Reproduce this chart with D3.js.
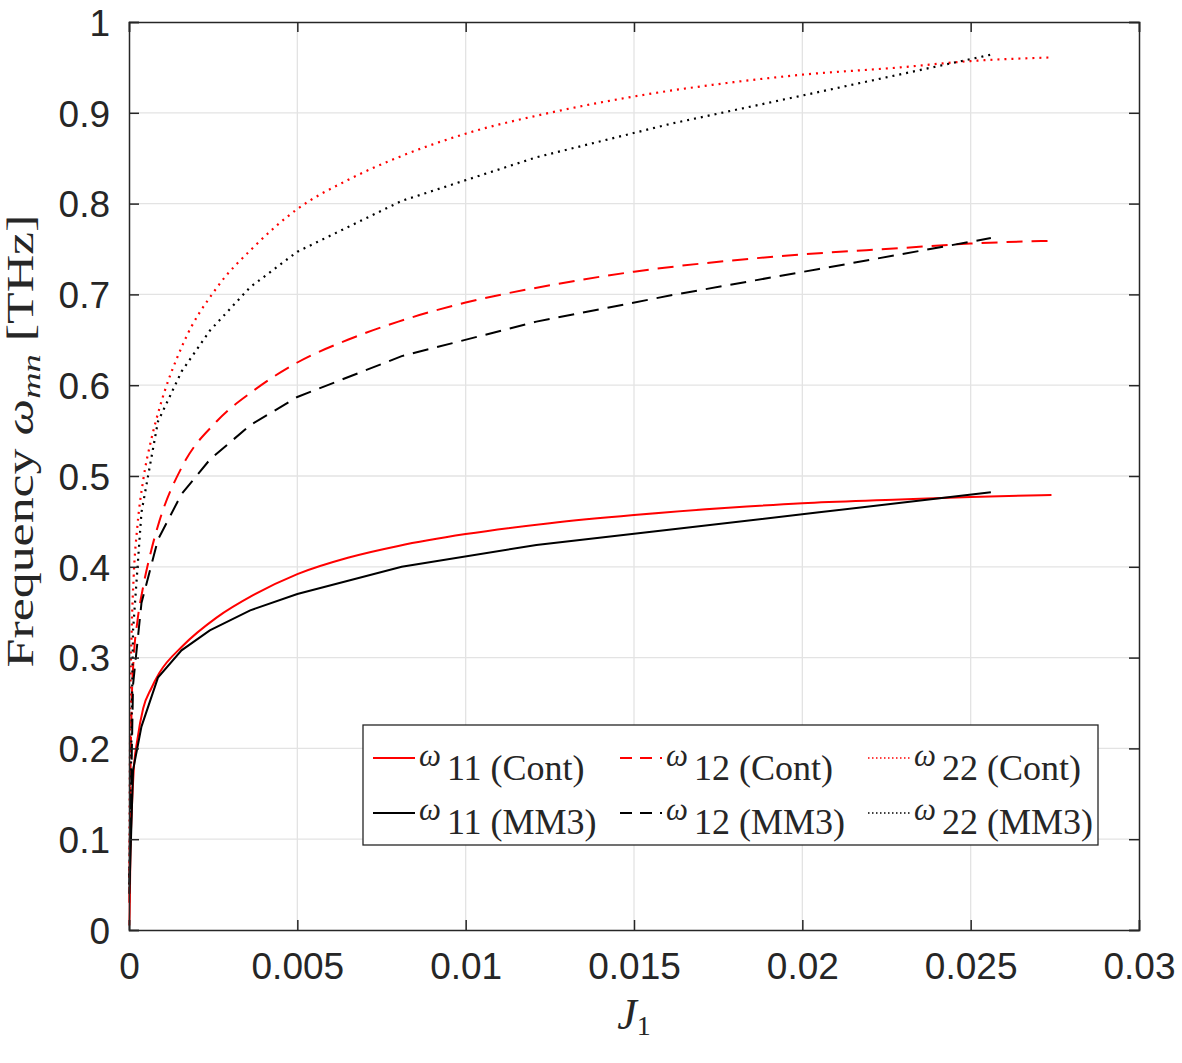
<!DOCTYPE html>
<html>
<head>
<meta charset="utf-8">
<script src="https://cdn.jsdelivr.net/npm/d3@7"></script>
<style>
body { margin:0; background:#fff; }
svg text { fill:#262626; }
</style>
</head>
<body>
<div id="svg"></div>
<script>

// data

var jCont = [0.00001, 0.00002, 0.00004, 0.00008, 0.00014, 0.00025, 0.00042, 0.00066, 0.0009,
             0.0016, 0.0026, 0.0037, 0.005, 0.0065, 0.008, 0.01, 0.0125, 0.015, 0.0178,
             0.02, 0.0229, 0.025, 0.0274];
var w11Cont = [0.005, 0.02, 0.08, 0.13, 0.176, 0.21, 0.244, 0.266, 0.283,
               0.313, 0.344, 0.369, 0.392, 0.410, 0.423, 0.436, 0.448, 0.457, 0.465,
               0.470, 0.474, 0.477, 0.479];
var w12Cont = [0.03, 0.08, 0.16, 0.25, 0.30, 0.34, 0.378, 0.418, 0.450,
               0.512, 0.560, 0.594, 0.625, 0.650, 0.670, 0.691, 0.710, 0.725, 0.737,
               0.744, 0.751, 0.756, 0.759];
var w22Cont = [0.05, 0.14, 0.25, 0.33, 0.39, 0.445, 0.495, 0.54, 0.574,
               0.645, 0.707, 0.752, 0.794, 0.826, 0.851, 0.877, 0.900, 0.918, 0.933,
               0.942, 0.950, 0.957, 0.961];

var jMM3 = [0.00001, 0.00012, 0.00037, 0.00086, 0.00156, 0.0024, 0.0036, 0.005,
            0.0081, 0.0121, 0.0161, 0.0205, 0.0256];
var w11MM3 = [0.04, 0.176, 0.224, 0.278, 0.308, 0.330, 0.352, 0.370,
              0.400, 0.424, 0.441, 0.460, 0.482];
var w12MM3 = [0.05, 0.27, 0.36, 0.43, 0.48, 0.518, 0.556, 0.587,
              0.632, 0.670, 0.699, 0.728, 0.762];
var w22MM3 = [0.06, 0.33, 0.46, 0.56, 0.615, 0.66, 0.708, 0.747,
              0.803, 0.851, 0.888, 0.923, 0.964];

var xTicks = [0, 0.005, 0.01, 0.015, 0.02, 0.025, 0.03];
var yTicks = [0, 0.1, 0.2, 0.3, 0.4, 0.5, 0.6, 0.7, 0.8, 0.9, 1];

var seriesNames = ["11 (Cont)", "12 (Cont)", "22 (Cont)", "11 (MM3)", "12 (MM3)", "22 (MM3)"];


var margin = {top: 22, left: 129, right: 43, bot: 133};
var svg = {width: 1182, height: 1063};
var W = svg.width - margin.left - margin.right;
var H = svg.height - margin.top - margin.bot;

var axcol = "#262626";
var dash = {solid: null, dashed: "16,9", dotted: "2,5"};

var x = d3.scaleLinear().domain([0, 0.03]).range([0, W]);
var y = d3.scaleLinear().domain([0, 1]).range([H, 0]);

var series = [
    {js: jCont, ws: w11Cont, col: "#ff0000", st: "solid", smooth: true},
    {js: jCont, ws: w12Cont, col: "#ff0000", st: "dashed", smooth: true},
    {js: jCont, ws: w22Cont, col: "#ff0000", st: "dotted", smooth: true},
    {js: jMM3, ws: w11MM3, col: "#000000", st: "solid", smooth: false},
    {js: jMM3, ws: w12MM3, col: "#000000", st: "dashed", smooth: false},
    {js: jMM3, ws: w22MM3, col: "#000000", st: "dotted", smooth: false}
];


var root = d3.select("#svg").append("svg")
    .attr("width", svg.width)
    .attr("height", svg.height);

root.append("rect")
    .attr("width", svg.width)
    .attr("height", svg.height)
    .attr("fill", "#fff");

var g = root.append("g")
    .attr("transform", "translate(" + margin.left + "," + margin.top + ")");

// grid
var grid = g.append("g").attr("id", "grid");
grid.selectAll("line.gx")
    .data(xTicks.slice(1, -1))
    .enter().append("line")
    .attr("x1", d => x(d)).attr("x2", d => x(d))
    .attr("y1", 0).attr("y2", H)
    .attr("stroke", "#e3e3e3")
    .attr("stroke-width", 1.3);
grid.selectAll("line.gy")
    .data(yTicks.slice(1, -1))
    .enter().append("line")
    .attr("y1", d => y(d)).attr("y2", d => y(d))
    .attr("x1", 0).attr("x2", W)
    .attr("stroke", "#e3e3e3")
    .attr("stroke-width", 1.3);

// curves
var line_of = function(s) {
    var l = d3.line()
        .x(function(d, i) { return x(s.js[i]); })
        .y(function(d) { return y(d); });
    if (s.smooth) l.curve(d3.curveMonotoneX);
    return l(s.ws);
};

g.append("g").attr("id", "curves")
    .selectAll("path")
    .data(series)
    .enter().append("path")
    .attr("d", line_of)
    .attr("fill", "none")
    .attr("stroke", d => d.col)
    .attr("stroke-width", d => d.st == "dotted" ? 2.2 : 2)
    .attr("stroke-dasharray", d => dash[d.st]);

// axes, box on, ticks inside on all four sides
var axL = g.append("g").call(d3.axisLeft(y).tickValues(yTicks).tickSize(-10).tickPadding(19).tickFormat(d3.format("~g")));
var axR = g.append("g").attr("transform", "translate(" + W + ",0)")
    .call(d3.axisRight(y).tickValues(yTicks).tickSize(-10).tickFormat(""));
var axB = g.append("g").attr("transform", "translate(0," + H + ")")
    .call(d3.axisBottom(x).tickValues(xTicks).tickSize(-10).tickPadding(22).tickFormat(d3.format("~g")));
var axT = g.append("g")
    .call(d3.axisTop(x).tickValues(xTicks).tickSize(-10).tickFormat(""));

[axL, axR, axB, axT].forEach(function(a) {
    a.selectAll(".domain").attr("stroke", axcol).attr("stroke-width", 1.5);
    a.selectAll(".tick line").attr("stroke", axcol).attr("stroke-width", 1.5);
    a.selectAll("text")
        .attr("font-family", "Liberation Sans, Arial, sans-serif")
        .attr("font-size", 37)
        .attr("fill", axcol);
});
axL.selectAll("text").attr("dy", "0.36em");
axB.selectAll("text").attr("dy", "0.72em");

// axis labels
var serif = "Liberation Serif, Times New Roman, serif";

var yl = root.append("text")
    .attr("text-anchor", "middle")
    .attr("font-family", serif)
    .attr("font-size", 37);
yl.append("tspan").text("Frequency ");
yl.append("tspan").attr("font-style", "italic").text("\u03c9");
yl.append("tspan").attr("font-style", "italic").attr("font-size", 26).attr("dy", 7).text("mn");
yl.append("tspan").attr("dy", -7).text(" [THz]");
// latex font is wider than times: stretch along the text
var ylen = yl.node().getComputedTextLength();
yl.attr("transform", "translate(33,441) rotate(-90) scale(" + (453 / ylen) + ",1)");

var xl = root.append("text")
    .attr("x", margin.left + W / 2)
    .attr("y", 1029)
    .attr("text-anchor", "middle")
    .attr("font-family", serif)
    .attr("font-size", 44);
xl.append("tspan").attr("font-style", "italic").text("J");
xl.append("tspan").attr("font-size", 28).attr("dy", 6).text("1");

// legend
var leg = {x: 363, y: 725, w: 735, h: 120};
var legCols = [373, 620, 868];
var legRows = [{line: 758, base: 780}, {line: 813, base: 834}];

var lg = root.append("g").attr("id", "legend");
lg.append("rect")
    .attr("x", leg.x).attr("y", leg.y)
    .attr("width", leg.w).attr("height", leg.h)
    .attr("fill", "#fff")
    .attr("stroke", axcol)
    .attr("stroke-width", 1.3);

var items = lg.selectAll("g.item")
    .data(series)
    .enter().append("g")
    .attr("transform", function(d, i) {
        return "translate(" + legCols[i % 3] + "," + 0 + ")";
    });

items.append("line")
    .attr("x1", 0).attr("x2", 42)
    .attr("y1", (d, i) => legRows[Math.floor(i / 3)].line)
    .attr("y2", (d, i) => legRows[Math.floor(i / 3)].line)
    .attr("stroke", d => d.col)
    .attr("stroke-width", d => d.st == "dotted" ? 1.6 : 2)
    .attr("stroke-dasharray", d => d.st == "dashed" ? "12,8" : d.st == "dotted" ? "1.5,2.5" : null);

var lt = items.append("text")
    .attr("x", 46)
    .attr("y", (d, i) => legRows[Math.floor(i / 3)].base)
    .attr("font-family", serif)
    .attr("font-size", 36);
lt.append("tspan").attr("font-style", "italic").attr("font-size", 31).attr("dy", -14).text("\u03c9");
lt.append("tspan").attr("dy", 14).attr("dx", 6).text((d, i) => seriesNames[i]);

</script>
</body>
</html>
